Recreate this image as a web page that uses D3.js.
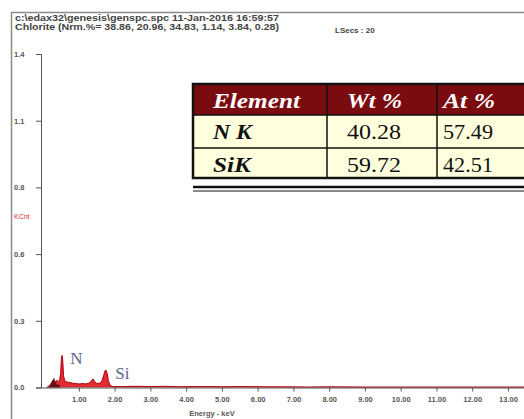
<!DOCTYPE html>
<html>
<head>
<meta charset="utf-8">
<script src="https://cdn.jsdelivr.net/npm/d3@7"></script>
<style>
  body { margin: 0; background: #fff; }
  svg { display: block; }
</style>
</head>
<body>
<div id="chart"></div>
<script>
// spectrum (keV, KCnt)
const energy = [0.10, 0.16, 0.20, 0.24, 0.28, 0.31, 0.34, 0.38, 0.42, 0.46, 0.49, 0.51, 0.53, 0.55, 0.57, 0.60,
  0.64, 0.70, 0.78, 0.86, 0.94, 1.02, 1.10, 1.18, 1.26, 1.32, 1.37, 1.40, 1.43, 1.50, 1.58, 1.64, 1.69, 1.73,
  1.76, 1.79, 1.83, 1.88, 1.95, 2.2, 2.6, 3.0, 3.4, 3.8, 4.2, 4.6, 5.0, 5.6, 6.2, 6.8, 7.4, 8.0, 9.0, 10.0,
  11.0, 12.0, 13.0, 13.6];
const kcnt = [0.0, 0.006, 0.012, 0.02, 0.03, 0.028, 0.022, 0.03, 0.025, 0.03, 0.06, 0.12, 0.135, 0.11, 0.05, 0.03,
  0.024, 0.022, 0.02, 0.017, 0.016, 0.015, 0.017, 0.015, 0.017, 0.022, 0.032, 0.036, 0.025, 0.017, 0.018, 0.026, 0.05, 0.07,
  0.072, 0.06, 0.025, 0.008, 0.004, 0.004, 0.005, 0.004, 0.005, 0.003, 0.004, 0.004, 0.003, 0.004, 0.003, 0.003, 0.002, 0.003, 0.002, 0.002,
  0.002, 0.002, 0.002, 0.002];
// darker overlay trace at the low-energy end
const energy2 = [0.14, 0.20, 0.25, 0.29, 0.31, 0.33, 0.37, 0.42, 0.47];
const kcnt2 = [0.0, 0.012, 0.028, 0.038, 0.042, 0.03, 0.016, 0.012, 0.01];

const yTicks = [0, 0.28, 0.56, 0.84, 1.12, 1.4];
const xTicks = [1, 2, 3, 4, 5, 6, 7, 8, 9, 10, 11, 12, 13];

const peakNames = ["N", "Si"];
const peakEnergy = [0.76, 2.02];
const peakLabelY = [0.10, 0.037];

const tableHead = ["Element", "Wt %", "At %"];
const elements = ["N K", "SiK"];
const wtPct = ["40.28", "59.72"];
const atPct = ["57.49", "42.51"];

const headerLines = ["c:\\edax32\\genesis\\genspc.spc   11-Jan-2016 16:59:57",
  "Chlorite (Nrm.%= 38.86, 20.96, 34.83, 1.14, 3.84, 0.28)"];

const W = 524, H = 419;
const svg = d3.select("#chart").append("svg")
  .attr("width", W).attr("height", H);

// outer frame
svg.append("rect")
  .attr("x", 11.5).attr("y", 12.5).attr("width", 530).attr("height", 420)
  .attr("fill", "none").attr("stroke", "#8a8a8a").attr("stroke-width", 1.5);

// header text
svg.selectAll("text.head").data(headerLines).join("text")
  .attr("class", "head")
  .attr("x", 15).attr("y", (d, i) => 21 + i * 9)
  .attr("textLength", 264).attr("lengthAdjust", "spacingAndGlyphs")
  .attr("font-family", "Liberation Sans, Arial, sans-serif")
  .attr("font-size", 8.5).attr("font-weight", "bold").attr("fill", "#444")
  .text(d => d);

svg.append("text")
  .attr("x", 335).attr("y", 33)
  .attr("font-family", "Liberation Sans, Arial, sans-serif")
  .attr("font-size", 8).attr("font-weight", "bold").attr("fill", "#444")
  .text("LSecs : 20");

const x = d3.scaleLinear().domain([-0.06, 13.6]).range([41, 529.4]);
const y = d3.scaleLinear().domain([0, 1.4]).range([387.5, 54]);

// spectrum
const area = d3.area()
  .x(d => x(d[0])).y0(y(0)).y1(d => y(d[1]));
const line = d3.line()
  .x(d => x(d[0])).y(d => y(d[1]));

const spec = energy.map((e, i) => [e, kcnt[i]]);
const spec2 = energy2.map((e, i) => [e, kcnt2[i]]);

svg.append("path").datum(spec)
  .attr("d", area).attr("fill", "#e0141c").attr("opacity", 0.9);
svg.append("path").datum(spec)
  .attr("d", line).attr("fill", "none").attr("stroke", "#b00010").attr("stroke-width", 1);
svg.append("path").datum(spec2)
  .attr("d", area).attr("fill", "#3a0a0a").attr("opacity", 0.75);

// axes
const yAxis = svg.append("g")
  .attr("transform", "translate(41,0)")
  .call(d3.axisLeft(y).tickValues(yTicks).tickFormat(d3.format(".1f")).tickSize(5).tickSizeOuter(5));
yAxis.selectAll("text")
  .attr("x", -27).attr("text-anchor", "start");

const xAxis = svg.append("g")
  .attr("transform", "translate(0,387.5)")
  .call(d3.axisBottom(x).tickValues(xTicks).tickFormat(d3.format(".2f")).tickSize(4).tickSizeOuter(0));
xAxis.selectAll("text").attr("dy", "0.95em");

[yAxis, xAxis].forEach(g => {
  g.select(".domain").attr("stroke", "#555");
  g.selectAll(".tick line").attr("stroke", "#555");
  g.selectAll("text")
    .attr("font-family", "Liberation Sans, Arial, sans-serif")
    .attr("font-size", 7.5).attr("font-weight", "bold").attr("fill", "#555");
});

svg.append("text")
  .attr("x", 212).attr("y", 416).attr("text-anchor", "middle")
  .attr("font-family", "Liberation Sans, Arial, sans-serif")
  .attr("font-size", 7.5).attr("font-weight", "bold").attr("fill", "#555")
  .text("Energy - keV");

svg.append("text")
  .attr("x", 14).attr("y", 219)
  .attr("font-family", "Liberation Sans, Arial, sans-serif")
  .attr("font-size", 7).attr("fill", "#e03030")
  .text("KCnt");

// peak labels
svg.selectAll("text.peak").data(peakNames).join("text")
  .attr("class", "peak")
  .attr("x", (d, i) => x(peakEnergy[i]))
  .attr("y", (d, i) => y(peakLabelY[i]))
  .attr("font-family", "Liberation Serif, Times New Roman, serif")
  .attr("font-size", 17).attr("fill", "#5a6590")
  .text(d => d);

// results table
const colX = [193, 327, 437, 526];
const rowY = [84, 115, 148, 178];
const rows = [tableHead].concat(elements.map((el, i) => [el, wtPct[i], atPct[i]]));
const textX = [213, 347, 443];
const textW = [[87, 55, 52], [39, 54, 50], [38, 54, 50]];

const table = svg.append("g");
rows.forEach((r, ri) => {
  table.append("rect")
    .attr("x", colX[0]).attr("y", rowY[ri])
    .attr("width", colX[3] - colX[0]).attr("height", rowY[ri + 1] - rowY[ri])
    .attr("fill", ri === 0 ? "#7a0c10" : "#ffffde");
  table.selectAll(null).data(r).join("text")
    .attr("x", (d, ci) => textX[ci])
    .attr("y", ri === 0 ? 108 : rowY[ri] + 24)
    .attr("textLength", (d, ci) => textW[ri][ci])
    .attr("lengthAdjust", "spacingAndGlyphs")
    .attr("font-family", "Liberation Serif, Times New Roman, serif")
    .attr("font-size", ri === 0 ? 20 : 21)
    .attr("font-weight", (d, ci) => (ri === 0 || ci === 0) ? "bold" : "normal")
    .attr("font-style", (d, ci) => (ri === 0 || ci === 0) ? "italic" : "normal")
    .attr("fill", ri === 0 ? "#fff" : "#111")
    .text(d => d);
});
// grid lines
rowY.slice(1, 3).forEach(yy => table.append("line")
  .attr("x1", colX[0]).attr("x2", colX[3]).attr("y1", yy).attr("y2", yy)
  .attr("stroke", "#111").attr("stroke-width", 1.5));
colX.slice(1, 3).forEach(xx => table.append("line")
  .attr("x1", xx).attr("x2", xx).attr("y1", rowY[0]).attr("y2", rowY[3])
  .attr("stroke", "#111").attr("stroke-width", 1.5));
table.append("rect")
  .attr("x", colX[0]).attr("y", rowY[0])
  .attr("width", colX[3] - colX[0]).attr("height", rowY[3] - rowY[0])
  .attr("fill", "none").attr("stroke", "#111").attr("stroke-width", 2.5);
table.append("line")
  .attr("x1", colX[0]).attr("x2", colX[3]).attr("y1", 187).attr("y2", 187)
  .attr("stroke", "#111").attr("stroke-width", 2.5);
table.append("line")
  .attr("x1", colX[0]).attr("x2", colX[3]).attr("y1", 191).attr("y2", 191)
  .attr("stroke", "#111").attr("stroke-width", 1);
</script>
</body>
</html>
